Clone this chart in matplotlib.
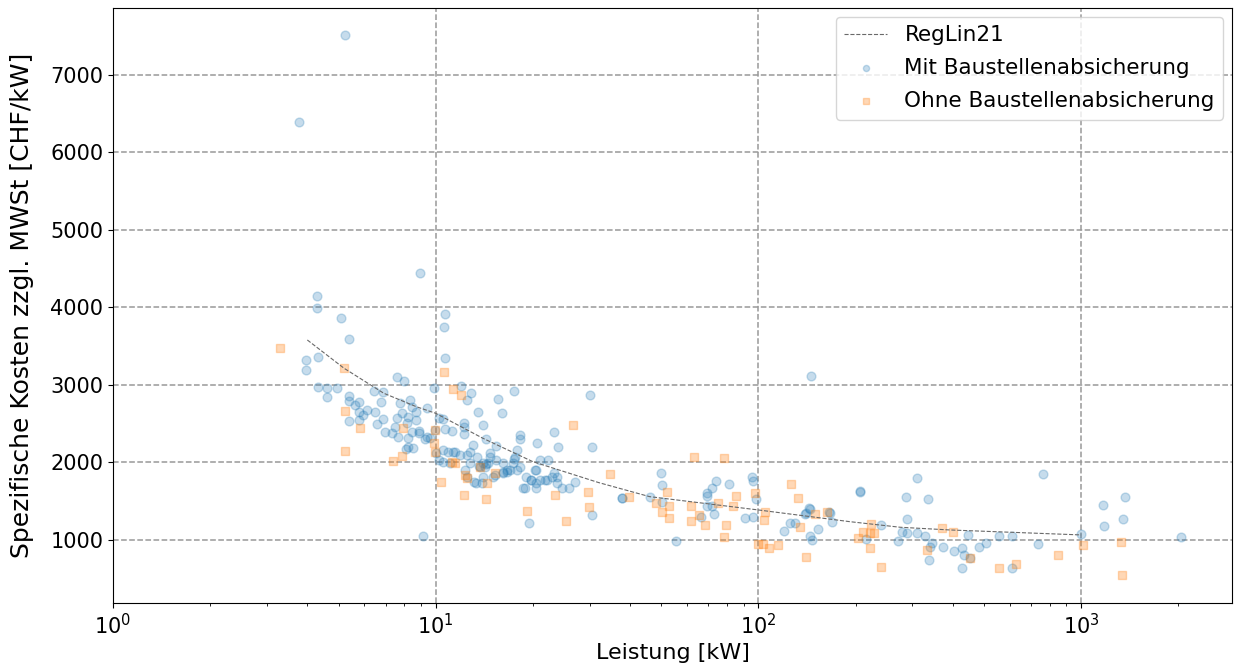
import matplotlib
matplotlib.use("Agg")
import matplotlib.pyplot as plt

# Regression line
reg_x = [4.0, 5.2, 6.9, 8.7, 10.0, 14.0, 20.0, 32.0, 46.0, 100.0, 192.0, 275.0, 392.0, 1000.0]
reg_y = [3580, 3215, 2893, 2720, 2634, 2312, 2010, 1740, 1559, 1387, 1236, 1164, 1129, 1065]

# Mit Baustellenabsicherung
mit_x = [5.25, 3.77, 8.95, 4.3, 4.3, 5.1, 5.39, 10.7, 10.6, 10.7, 145,
         3.96, 3.96, 4.33, 4.33, 4.61, 4.61, 4.93, 5.4, 5.4, 5.62, 5.8, 5.8, 5.95, 6.13,
         5.4, 5.8, 6.5, 6.43, 6.85, 6.75, 6.58, 6.88, 6.97, 7.57, 7.95, 7.75, 7.85, 7.57,
         7.3, 7.5, 7.66, 8.3, 8.43, 8.7, 8.7, 8.23, 8.14, 8.43, 8.23, 8.23, 8.5, 8.1, 8.9,
         8.85, 9.38, 9.38, 9.6, 9.27, 9.9, 9.95, 10.2, 10.5, 10.2, 10.5, 9.1, 10.0,
         12.0, 12.9, 12.5, 13.5, 12.2, 12.2, 12.2, 14.0, 15.6, 17.5, 16.0, 18.3, 18.3, 20.6,
         23.3, 24.0, 30.1, 30.6, 30.4, 19.5, 37.7, 10.7, 11.2, 15.4, 14.7, 17.9, 17.6, 20.5,
         21.0, 22.3, 18.9, 20.5, 21.8, 23.7, 24.6, 25.8, 27.0, 13.3, 13.9,
         10.5, 10.9, 11.5, 11.9, 12.5, 12.8, 13.0, 13.4, 13.7, 14.2, 14.5, 14.7, 15.4, 16.2,
         16.6, 17.4, 17.8, 18.2, 19.1, 19.8, 20.5, 21.0, 22.1, 22.9, 23.7, 18.7, 13.1, 14.0,
         15.3, 16.2, 17.0, 20.3, 23.2, 11.1, 12.3, 12.5, 11.3, 12.8, 14.0, 14.3, 16.2, 16.6,
         19.7, 17.5, 13.6, 15.1, 14.3,
         37.9, 46.0, 49.8, 50.4, 50.1, 55.6, 66.5, 69.2, 69.2, 71.8, 73.8, 80.8, 69.2, 71.8,
         73.0, 90.7, 96.0, 95.4, 96.5, 98.2, 120, 125, 130, 140, 143,
         144.5, 139.8, 165, 166.5, 169.5, 153, 144.5, 147, 206, 207, 215, 240, 271, 278, 288,
         286, 288, 309, 309, 328, 335, 344, 340, 338, 373, 405, 427, 427, 434, 445, 481, 507,
         557, 612, 610, 452,
         736, 763, 998, 1165, 1176, 1369, 1349, 2040]
mit_y = [7520, 6390, 4440, 4150, 3990, 3860, 3590, 3910, 3750, 3350, 3120,
         3320, 3195, 3365, 2978, 2957, 2840, 2957, 2858, 2797, 2740, 2784, 2655, 2612, 2677,
         2540, 2548, 2647, 2922, 2913, 2784, 2496, 2557, 2397, 3107, 3047, 2771, 2634, 2570,
         2384, 2462, 2333, 2806, 2720, 2655, 2548, 2590, 2505, 2397, 2312, 2204, 2183, 2170, 2375,
         2400, 2699, 2333, 2312, 2300, 2957, 2419, 2570, 2560, 2032, 2010, 1050, 2120,
         2987, 2900, 2806, 2647, 2505, 2462, 2367, 2484, 2823, 2922, 2634, 2355, 2299, 2247,
         2397, 2204, 2870, 2196, 1323, 1223, 1538, 2428, 2410, 2213, 2126, 2161, 2075, 1905,
         2030, 2030, 1665, 1665, 1775, 1815, 1665, 1665, 1750, 1730, 1730,
         2160, 2140, 2140, 2095, 2095, 2140, 2225, 2075, 1945, 1945, 1990, 2075, 2030, 1990,
         1905, 1990, 1905, 1945, 1815, 1775, 1730, 1775, 1775, 1815, 1730, 1665, 1750, 1815,
         1840, 1860, 1905, 1905, 1860, 1990, 1905, 1815, 2140, 1990, 1990, 1985, 1880, 1880,
         1775, 2050, 1960, 1815, 2299,
         1542, 1551, 1860, 1710, 1494, 991, 1301, 1602, 1568, 1675, 1761, 1718, 1443, 1443,
         1335, 1280, 1301, 1817, 1765, 1529, 1116, 1215, 1215, 1345, 1410,
         1396, 1335, 1357, 1345, 1228, 1142, 1055, 1000, 1632, 1620, 1009, 1194, 987, 1099, 1086,
         1559, 1271, 1796, 1086, 1055, 1529, 957, 906, 742, 914, 862, 893, 635, 806, 1065, 914, 957,
         1055, 1055, 643, 764,
         944, 1847, 1073, 1452, 1185, 1551, 1267, 1043]

# Ohne Baustellenabsicherung
ohne_x = [3.29, 5.2, 5.25, 5.25, 5.83, 7.38, 7.85, 7.9, 9.9, 9.95, 10.6, 10.4, 11.35, 11.94,
          11.5, 12.3, 12.2, 14.3, 14.4, 26.6, 34.7, 19.2, 25.4, 29.6, 29.8, 23.4, 12.5, 15.3,
          13.7, 11.2, 9.95,
          39.8, 63.0, 78.1, 52.0, 53.0, 50.1, 53.0, 62.0, 62.0, 65.6, 68.3, 75.2, 85.0, 83.3,
          79.3, 78.3, 97.3, 104.5, 104, 100, 103, 108, 115, 126, 133, 135, 140, 48.3,
          150, 163, 203, 211, 223, 221, 228, 222, 239, 334, 371, 402, 452, 555, 628,
          850, 1013, 1325, 1338]
ohne_y = [3473, 3215, 2664, 2152, 2441, 2019, 2084, 2441, 2247, 2139, 3171, 1752, 2944, 2870,
          1990, 1840, 1580, 1525, 1730, 2484, 1850, 1378, 1241, 1615, 1422, 1580, 1800, 1860,
          1945, 2000, 2419,
          1559, 2067, 2054, 1623, 1438, 1365, 1280, 1438, 1245, 1323, 1194, 1473, 1572, 1443,
          1194, 1035, 1610, 1365, 1258, 948, 948, 893, 935, 1718, 1546, 1164, 785, 1473,
          1335, 1365, 1022, 1107, 1206, 1095, 1095, 897, 652, 871, 1151, 1107, 764, 635, 690,
          806, 935, 970, 545]

fig = plt.figure(figsize=(12.34, 6.72), dpi=100)
ax = fig.add_axes([0.0916, 0.1027, 0.9068, 0.8854])

ax.plot(reg_x, reg_y, linestyle="--", color="dimgray", linewidth=0.8, label="RegLin21", zorder=3)
ax.scatter(mit_x, mit_y, s=40, marker="o", color="#1f77b4", alpha=0.25,
           label="Mit Baustellenabsicherung", zorder=2)
ax.scatter(ohne_x, ohne_y, s=36, marker="s", color="#ff7f0e", alpha=0.3,
           label="Ohne Baustellenabsicherung", zorder=2)

ax.set_xscale("log")
ax.set_xlim(1, 2935)
ax.set_ylim(187, 7863)
ax.set_yticks([1000, 2000, 3000, 4000, 5000, 6000, 7000])

ax.grid(True, which="major", linestyle="--", color="#999999", linewidth=1.1)
ax.set_axisbelow(True)

ax.tick_params(axis="both", which="major", labelsize=15)
ax.set_xlabel("Leistung [kW]", fontsize=16)
ax.set_ylabel("Spezifische Kosten zzgl. MWSt [CHF/kW]", fontsize=18)
ax.yaxis.set_label_coords(-0.071, 0.5)

ax.legend(loc="upper right", fontsize=15.5, markerscale=0.7, labelspacing=0.6,
          borderaxespad=0.4)

fig.savefig("out.png", dpi=100)
